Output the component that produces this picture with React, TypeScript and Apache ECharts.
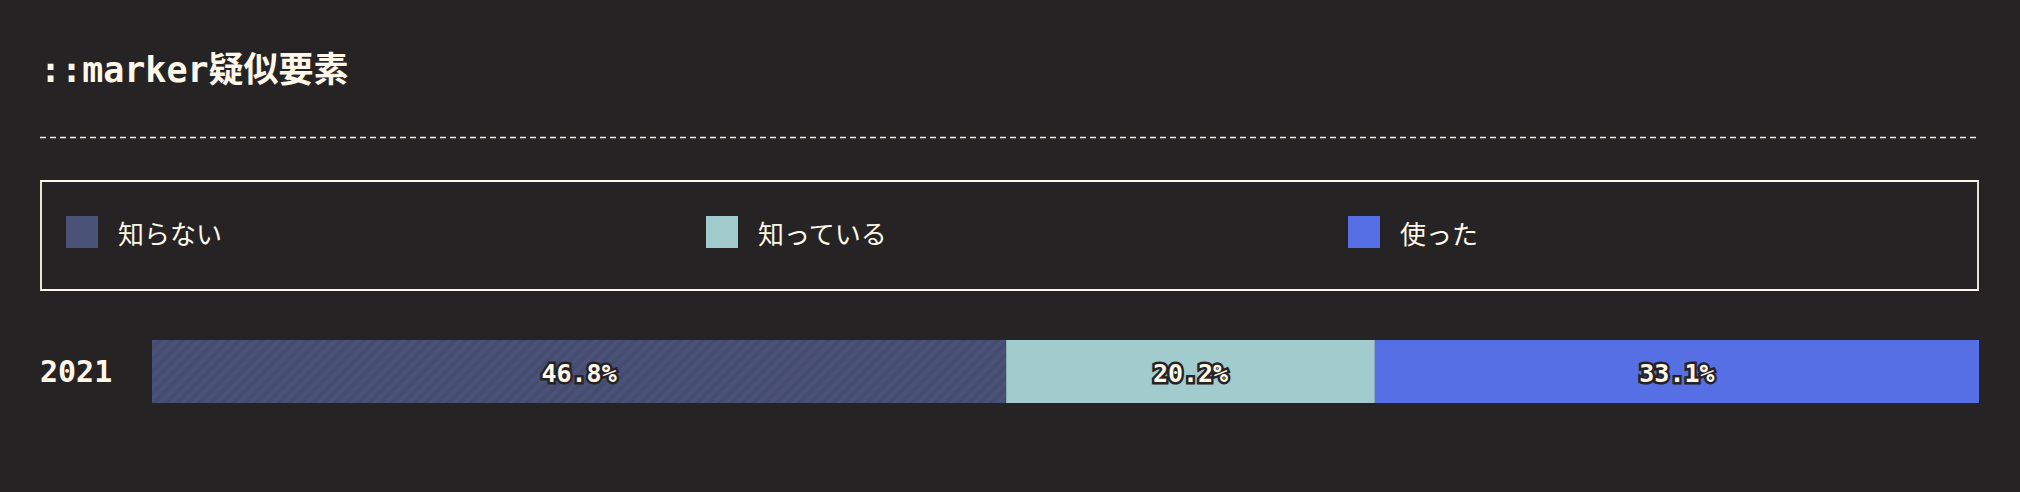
import React, { useEffect, useRef } from "react";
import * as echarts from "echarts";

const titleText = "::marker疑似要素";
const categories = ["2021"];
const seriesNames = ["知らない", "知っている", "使った"];
const unknownValues = [46.8];
const knownValues = [20.2];
const usedValues = [33.1];
const seriesValues = [unknownValues, knownValues, usedValues];
const colors = ["#4b5278", "#a2cbcd", "#566fe5"];

const BG = "#262324";
const CREAM = "#fff8ea";
const MONO = "'DejaVu Sans Mono', 'Liberation Mono', 'Noto Sans CJK JP', monospace";
const SANS = "'Noto Sans CJK JP', 'Noto Sans', sans-serif";

export default function App() {
  const ref = useRef<HTMLDivElement>(null);
  useEffect(() => {
    document.body.style.margin = "0";
    document.body.style.background = BG;
    const chart = echarts.init(ref.current!, null, { renderer: "svg" });
    const total = seriesValues.reduce((s, v) => s + v[0], 0);
    const legendLefts = [66, 706, 1348];
    const option: any = {
      animation: false,
      backgroundColor: BG,
      title: {
        text: titleText,
        left: 40,
        top: 52,
        padding: 0,
        textStyle: { color: CREAM, fontSize: 35, fontWeight: "bold", fontFamily: MONO },
      },
      legend: seriesNames.map((n, i) => ({
        data: [n],
        left: legendLefts[i],
        top: 216,
        padding: 0,
        icon: "rect",
        itemWidth: 32,
        itemHeight: 32,
        itemStyle: { decal: "none" },
        textStyle: { color: CREAM, fontSize: 26, fontFamily: SANS, padding: [0, 0, 0, 15] },
      })),
      graphic: [
        {
          type: "line",
          shape: { x1: 40, y1: 137.5, x2: 1979, y2: 137.5 },
          style: { stroke: CREAM, lineWidth: 1.5, lineDash: [6, 4] },
        },
        {
          type: "rect",
          shape: { x: 41, y: 181, width: 1937, height: 109 },
          style: { fill: "none", stroke: CREAM, lineWidth: 1.8 },
        },
      ],
      grid: { left: 152, right: 41, top: 340, height: 63 },
      xAxis: { type: "value", min: 0, max: total, show: false },
      yAxis: {
        type: "category",
        data: categories,
        axisLine: { show: false },
        axisTick: { show: false },
        splitLine: { show: false },
        axisLabel: {
          margin: 112,
          align: "left",
          color: CREAM,
          fontSize: 30,
          fontWeight: "bold",
          fontFamily: MONO,
          padding: [3, 0, 0, 0],
        },
      },
      series: seriesNames.map((n, i) => ({
        name: n,
        type: "bar",
        stack: "total",
        data: seriesValues[i],
        barWidth: "100%",
        itemStyle: {
          color: colors[i],
          decal:
            i === 0
              ? {
                  symbol: "rect",
                  symbolSize: 1,
                  color: "rgba(35,35,60,0.12)",
                  dashArrayX: [1, 0],
                  dashArrayY: [4, 4],
                  rotation: -Math.PI / 4,
                }
              : "none",
        },
        label: {
          show: true,
          position: "inside",
          offset: [0, 1.5],
          formatter: "{c}%",
          color: CREAM,
          fontSize: 25,
          fontWeight: "bold",
          fontFamily: MONO,
          textBorderColor: BG,
          textBorderWidth: 5,
        },
      })),
    };
    chart.setOption(option);
    return () => chart.dispose();
  }, []);
  return <div ref={ref} style={{ width: 2020, height: 492 }} />;
}
